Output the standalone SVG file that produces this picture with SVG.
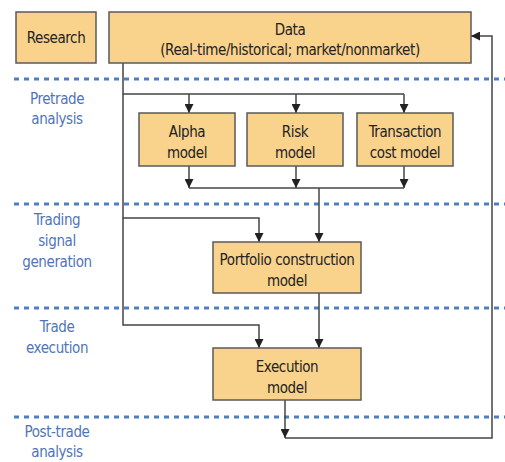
<svg xmlns="http://www.w3.org/2000/svg" width="505" height="462" viewBox="0 0 505 462">
<defs>
<marker id="ah" markerWidth="9" markerHeight="9" refX="9" refY="4.5" orient="auto" markerUnits="userSpaceOnUse" viewBox="0 0 9 9">
<path d="M0,0 L9,4.5 L0,9 z" fill="#222"/>
</marker>
<style>
.box{fill:#f9d28c;stroke:#5a5a5a;stroke-width:1.5}
.t{font-family:"DejaVu Sans Condensed","Liberation Sans",sans-serif;font-size:15px;letter-spacing:-0.4px;fill:#222;text-anchor:middle}
.lbl{font-family:"DejaVu Sans Condensed","Liberation Sans",sans-serif;font-size:15px;letter-spacing:-0.4px;fill:#4f75b8;text-anchor:middle}
.dot{stroke:#4f7fc0;stroke-width:3;stroke-dasharray:5 5;fill:none}
.c{stroke:#444;stroke-width:1.5;fill:none}
.a{stroke:#444;stroke-width:1.5;fill:none;marker-end:url(#ah)}
</style>
</defs>
<rect width="505" height="462" fill="#fff"/>
<g id="dividers">
<line class="dot" x1="14" y1="79" x2="505" y2="79"/>
<line class="dot" x1="14" y1="204" x2="505" y2="204"/>
<line class="dot" x1="14" y1="308" x2="505" y2="308"/>
<line class="dot" x1="14" y1="417" x2="505" y2="417"/>
</g>
<g id="stage-labels">
<text class="lbl" x="57" y="104">Pretrade</text>
<text class="lbl" x="57" y="124">analysis</text>
<text class="lbl" x="57" y="225">Trading</text>
<text class="lbl" x="57" y="246">signal</text>
<text class="lbl" x="57" y="267">generation</text>
<text class="lbl" x="57" y="332">Trade</text>
<text class="lbl" x="57" y="353">execution</text>
<text class="lbl" x="57" y="437">Post-trade</text>
<text class="lbl" x="57" y="457">analysis</text>
</g>
<g id="connectors">
<polyline class="c" points="123,63 123,94 404,94"/>
<line class="a" x1="189" y1="94" x2="189" y2="113"/>
<line class="a" x1="296" y1="94" x2="296" y2="113"/>
<line class="a" x1="404" y1="94" x2="404" y2="113"/>
<line class="a" x1="189" y1="166" x2="189" y2="188"/>
<line class="a" x1="296" y1="166" x2="296" y2="188"/>
<line class="a" x1="404" y1="166" x2="404" y2="188"/>
<line class="c" x1="189" y1="188" x2="404" y2="188"/>
<line class="a" x1="319" y1="188" x2="319" y2="242"/>
<polyline class="a" points="123,94 123,218 259,218 259,242"/>
<polyline class="a" points="123,218 123,325 259,325 259,348"/>
<line class="a" x1="319" y1="293" x2="319" y2="348"/>
<line class="a" x1="285" y1="400" x2="285" y2="438"/>
<polyline class="a" points="285,438 492,438 492,36 471,36"/>
</g>
<g id="research">
<rect class="box" x="16" y="12" width="80" height="51"/>
<text class="t" x="56" y="43">Research</text>
</g>
<g id="data">
<rect class="box" x="109" y="12" width="362" height="51"/>
<text class="t" x="290" y="35">Data</text>
<text class="t" x="290" y="55">(Real-time/historical; market/nonmarket)</text>
</g>
<g id="alpha">
<rect class="box" x="139" y="113" width="96" height="53"/>
<text class="t" x="187" y="137">Alpha</text>
<text class="t" x="187" y="158">model</text>
</g>
<g id="risk">
<rect class="box" x="247" y="113" width="96" height="53"/>
<text class="t" x="295" y="137">Risk</text>
<text class="t" x="295" y="158">model</text>
</g>
<g id="transaction">
<rect class="box" x="357" y="113" width="96" height="53"/>
<text class="t" x="405" y="137">Transaction</text>
<text class="t" x="405" y="158">cost model</text>
</g>
<g id="portfolio">
<rect class="box" x="213" y="242" width="148" height="51"/>
<text class="t" x="287" y="265">Portfolio construction</text>
<text class="t" x="287" y="286">model</text>
</g>
<g id="execution">
<rect class="box" x="213" y="348" width="148" height="52"/>
<text class="t" x="287" y="372">Execution</text>
<text class="t" x="287" y="393">model</text>
</g>
</svg>
